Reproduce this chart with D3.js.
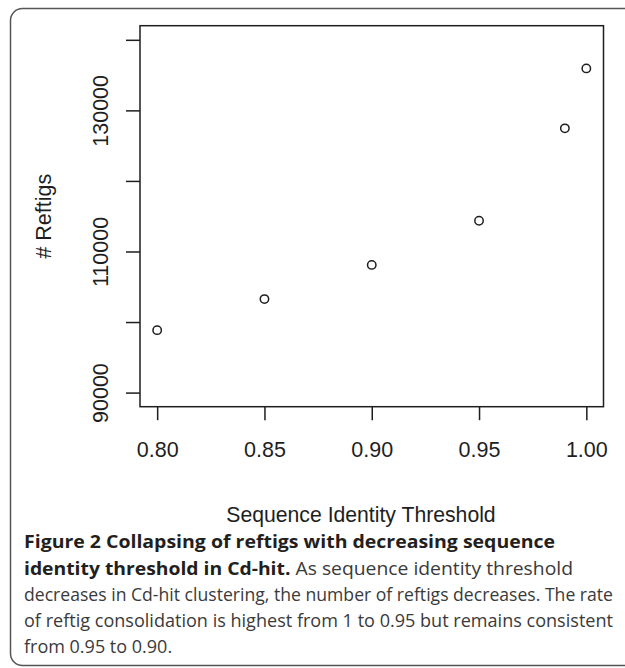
<!DOCTYPE html>
<html>
<head>
<meta charset="utf-8">
<script src="https://cdn.jsdelivr.net/npm/d3@7"></script>
<style>
  html, body { margin: 0; padding: 0; background: #fff; }
  svg { display: block; }
</style>
</head>
<body>
<div id="chart"></div>
<script>
// ---- data ----
const thresholds = [0.80, 0.85, 0.90, 0.95, 0.99, 1.00];
const reftigs = [98850, 103250, 108100, 114350, 127450, 135950];

const xTicks = [0.80, 0.85, 0.90, 0.95, 1.00];
const xTickLabels = ["0.80", "0.85", "0.90", "0.95", "1.00"];
const yTicks = [90000, 100000, 110000, 120000, 130000, 140000];
const yTickLabels = ["90000", "", "110000", "", "130000", ""];

const xTitle = "Sequence Identity Threshold";
const yTitle = "# Reftigs";

const captionLines = [
  [{t: "Figure 2 Collapsing of reftigs with decreasing sequence", b: true}],
  [{t: "identity threshold in Cd-hit.", b: true}, {t: " As sequence identity threshold", b: false}],
  [{t: "decreases in Cd-hit clustering, the number of reftigs decreases. The rate", b: false}],
  [{t: "of reftig consolidation is highest from 1 to 0.95 but remains consistent", b: false}],
  [{t: "from 0.95 to 0.90.", b: false}]
];
const captionWidths = [531, 549, 589, 589, null];

// ---- layout ----
const W = 625, H = 668;
const plot = {left: 140, right: 603.5, top: 25.7, bottom: 406.7};
const axisFont = "'Liberation Sans', Arial, sans-serif";
const ink = "#1e1e1e";

const svg = d3.select("#chart").append("svg")
  .attr("width", W).attr("height", H);

svg.append("rect").attr("width", W).attr("height", H).attr("fill", "#fff");

// outer rounded frame
svg.append("rect")
  .attr("x", 10.5).attr("y", 8.5)
  .attr("width", 660).attr("height", 657)
  .attr("rx", 12).attr("ry", 12)
  .attr("fill", "none").attr("stroke", "#555").attr("stroke-width", 1.5);

const x = d3.scaleLinear().domain([0.792, 1.008]).range([plot.left, plot.right]);
const y = d3.scaleLinear().domain([88000, 142000]).range([plot.bottom, plot.top]);

// x axis ticks
const gx = svg.append("g")
  .attr("transform", `translate(0,${plot.bottom})`)
  .call(d3.axisBottom(x).tickValues(xTicks).tickSize(13.5).tickFormat((d, i) => xTickLabels[i]));
gx.select(".domain").remove();
gx.selectAll(".tick line").attr("stroke", ink).attr("stroke-width", 1.5);
gx.selectAll(".tick text")
  .attr("y", 50).attr("dy", null)
  .attr("fill", ink)
  .style("font-family", axisFont).style("font-size", "21.5px");

// y axis ticks
const gy = svg.append("g")
  .attr("transform", `translate(${plot.left},0)`)
  .call(d3.axisLeft(y).tickValues(yTicks).tickSize(14).tickFormat((d, i) => yTickLabels[i]));
gy.select(".domain").remove();
gy.selectAll(".tick line").attr("stroke", ink).attr("stroke-width", 1.5);
gy.selectAll(".tick text")
  .attr("x", null).attr("dy", null)
  .attr("transform", "translate(-32,0) rotate(-90)")
  .attr("text-anchor", "middle")
  .attr("fill", ink)
  .style("font-family", axisFont).style("font-size", "21.5px");

// plot box
svg.append("rect")
  .attr("x", plot.left).attr("y", plot.top)
  .attr("width", plot.right - plot.left).attr("height", plot.bottom - plot.top)
  .attr("fill", "none").attr("stroke", ink).attr("stroke-width", 1.5);

// points
svg.append("g").selectAll("circle")
  .data(thresholds.map((t, i) => ({t, v: reftigs[i]})))
  .join("circle")
  .attr("cx", d => x(d.t)).attr("cy", d => y(d.v))
  .attr("r", 4.2)
  .attr("fill", "none").attr("stroke", ink).attr("stroke-width", 1.5);

// axis titles
svg.append("text")
  .attr("x", 361).attr("y", 522)
  .attr("text-anchor", "middle")
  .attr("fill", ink)
  .style("font-family", axisFont).style("font-size", "21.2px")
  .text(xTitle);

svg.append("text")
  .attr("transform", `translate(51,${(plot.top + plot.bottom) / 2}) rotate(-90)`)
  .attr("text-anchor", "middle")
  .attr("fill", ink)
  .style("font-family", axisFont).style("font-size", "21.5px")
  .text(yTitle);

// caption
const cap = svg.append("g")
  .style("font-family", "'Open Sans', 'Noto Sans', sans-serif")
  .style("font-size", "18px");
captionLines.forEach((segs, i) => {
  const t = cap.append("text")
    .attr("x", 24).attr("y", 548.3 + i * 26.25)
    .attr("fill", "#231f20");
  if (captionWidths[i]) {
    t.attr("textLength", captionWidths[i]).attr("lengthAdjust", "spacingAndGlyphs");
  }
  segs.forEach(s => {
    t.append("tspan")
      .attr("font-weight", s.b ? 700 : 400)
      .attr("fill", s.b ? "#231f20" : "#3a3a3a")
      .text(s.t);
  });
});
</script>
</body>
</html>
